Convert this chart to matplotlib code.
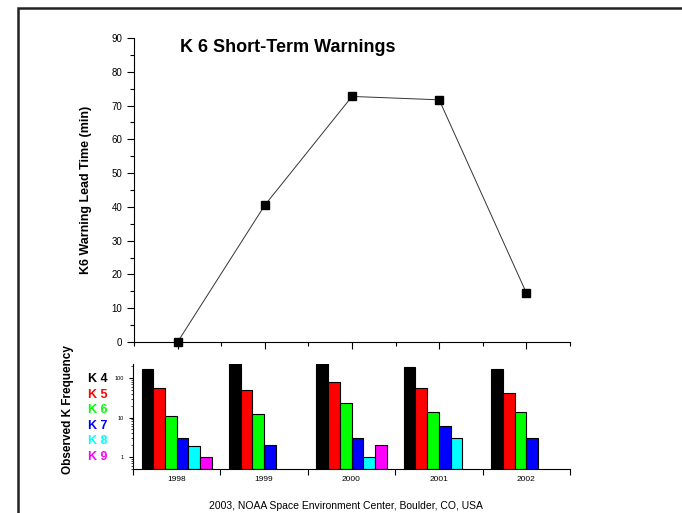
import numpy as np
import matplotlib
matplotlib.use('Agg')
import matplotlib.pyplot as plt
from matplotlib.patches import Rectangle
from matplotlib.ticker import MultipleLocator, FixedLocator, NullFormatter

plt.rcParams['font.family'] = ['Liberation Sans', 'DejaVu Sans']

years = [1998, 1999, 2000, 2001, 2002]
lead_time = [0.0, 40.5, 72.7, 71.7, 14.5]

k_labels = ['K 4', 'K 5', 'K 6', 'K 7', 'K 8', 'K 9']
k_colors = ['#000000', '#ff0000', '#00ff00', '#0000ff', '#00ffff', '#ff00ff']
# observed counts per year (0 = none observed)
k4 = [169, 240, 240, 186, 166]
k5 = [57, 51, 79, 57, 42]
k6 = [10.9, 12, 24, 13.5, 13.5]
k7 = [3, 2, 3, 6, 3]
k8 = [1.9, 0, 1, 3, 0]
k9 = [1, 0, 2, 0, 0]
k_counts = [k4, k5, k6, k7, k8, k9]

fig = plt.figure(figsize=(6.82, 5.13), dpi=100)
W, H = 682, 513


def fx(px):
    return px / W


def fy(py):
    return 1 - py / H


# outer frame
fig.patches.append(Rectangle((fx(18), fy(560)), 1.2, fy(8) - fy(560),
                             transform=fig.transFigure, fill=False,
                             edgecolor='#222222', linewidth=1.8))

# top panel: lead time
ax = fig.add_axes([fx(134), fy(342), fx(570) - fx(134), fy(38) - fy(342)])
ax.plot(years, lead_time, color='#333333', linewidth=0.7,
        marker='s', markersize=6, markerfacecolor='black', markeredgecolor='black',
        clip_on=False)
ax.set_xlim(1997.5, 2002.5)
ax.set_ylim(0, 90)
ax.xaxis.set_major_locator(FixedLocator(years))
ax.xaxis.set_minor_locator(MultipleLocator(0.5))
ax.xaxis.set_major_formatter(NullFormatter())
ax.yaxis.set_major_locator(MultipleLocator(10))
ax.yaxis.set_minor_locator(MultipleLocator(5))
for s in ['top', 'right']:
    ax.spines[s].set_visible(False)
ax.tick_params(axis='both', which='major', direction='out', length=5, width=0.8, labelsize=7)
ax.tick_params(axis='both', which='minor', direction='out', length=3, width=0.8)
ax.set_ylabel('K6 Warning Lead Time (min)', fontsize=9, fontweight='bold', labelpad=14)
ax.text(0.105, 0.97, 'K 6 Short-Term Warnings', transform=ax.transAxes,
        fontsize=13, fontweight='bold', va='center', ha='left')

# bottom panel: observed K frequency
bx = fig.add_axes([fx(133), fy(469), fx(570) - fx(133), fy(364) - fy(469)])
width = 0.134
base = 0.5
x = np.array(years, dtype=float)
for i, (vals, col) in enumerate(zip(k_counts, k_colors)):
    v = np.array(vals, dtype=float)
    mask = v > 0
    bx.bar(x[mask] + (i - 2.5) * width, v[mask] - base,
           width=width, bottom=base, color=col, edgecolor='black', linewidth=0.8,
           align='center')
bx.set_yscale('log')
bx.set_ylim(base, 226)
bx.set_xlim(1997.5, 2002.5)
bx.set_xticks([1997.5 + i for i in range(6)])
bx.set_xticklabels([])
bx.set_xticks(years, minor=True)
bx.set_xticklabels([str(y) for y in years], minor=True)
bx.tick_params(axis='x', which='major', direction='out', length=4, width=0.8)
bx.tick_params(axis='x', which='minor', length=0, labelsize=6, pad=5)
bx.set_yticks([1, 10, 100])
bx.set_yticklabels(['1', '10', '100'])
bx.tick_params(axis='y', which='major', direction='out', length=3, width=0.8, labelsize=4)
bx.tick_params(axis='y', which='minor', direction='out', length=1.5, width=0.5, labelleft=False)
for s in ['top', 'right']:
    bx.spines[s].set_visible(False)

fig.text(fx(68), fy(410), 'Observed K Frequency', rotation=90, fontsize=8.5,
         fontweight='bold', ha='center', va='center')
for i, (lab, col) in enumerate(zip(k_labels, k_colors)):
    fig.text(fx(88), fy(379 + i * 15.6), lab, color=col, fontsize=9,
             fontweight='bold', ha='left', va='center')

fig.text(fx(346), fy(506), '2003, NOAA Space Environment Center, Boulder, CO, USA',
         fontsize=7.5, ha='center', va='center')

fig.savefig('out.png', dpi=100)
